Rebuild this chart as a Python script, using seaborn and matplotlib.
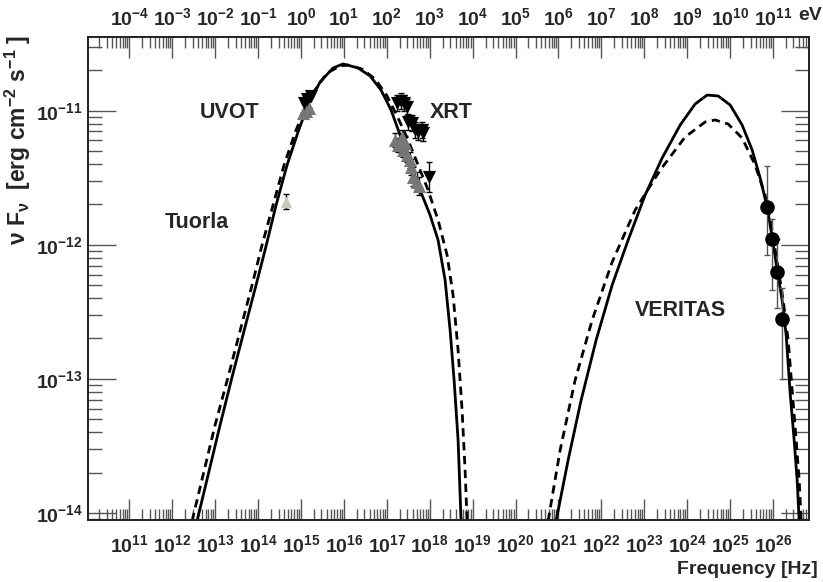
import numpy as np
import pandas as pd
import matplotlib
matplotlib.use("Agg")
import matplotlib.pyplot as plt
import matplotlib.ticker as mticker
import seaborn as sns

# ---------------- data (log10 values) ----------------
sync_solid_lognu = [12.578, 12.835, 13.114, 13.394, 13.697, 13.953, 14.163, 14.420, 14.676, 14.932,
                    15.142, 15.445, 15.748, 15.981, 16.331, 16.611, 16.867, 17.100, 17.310, 17.543,
                    17.776, 18.009, 18.196, 18.359, 18.476, 18.569, 18.662, 18.732]
sync_solid_logf = [-14.06, -13.719, -13.346, -12.987, -12.614, -12.301, -12.040, -11.704, -11.405, -11.159,
                   -10.972, -10.786, -10.681, -10.651, -10.681, -10.741, -10.846, -10.995, -11.181, -11.390,
                   -11.592, -11.778, -11.965, -12.263, -12.637, -13.010, -13.457, -14.06]

sync_dash_lognu = [12.462, 12.718, 12.998, 13.301, 13.604, 13.860, 14.093, 14.350, 14.606, 14.886,
                   15.212, 15.608, 15.911, 16.098, 16.424, 16.727, 17.007, 17.263, 17.497, 17.730,
                   17.963, 18.196, 18.406, 18.545, 18.662, 18.755, 18.825, 18.872]
sync_dash_logf = [-14.06, -13.719, -13.346, -12.987, -12.614, -12.301, -12.002, -11.704, -11.405, -11.144,
                  -10.898, -10.719, -10.666, -10.659, -10.689, -10.763, -10.890, -11.054, -11.219, -11.405,
                  -11.592, -11.816, -12.077, -12.375, -12.786, -13.234, -13.681, -14.06]

ic_solid_lognu = [20.946, 21.226, 21.529, 21.879, 22.252, 22.625, 23.021, 23.417, 23.837, 24.186,
                  24.466, 24.723, 25.002, 25.282, 25.515, 25.702, 25.865, 25.981, 26.098, 26.214,
                  26.308, 26.401, 26.494, 26.564, 26.611]
ic_solid_logf = [-14.06, -13.607, -13.159, -12.711, -12.301, -11.965, -11.629, -11.353, -11.107, -10.950,
                 -10.883, -10.890, -10.957, -11.107, -11.293, -11.502, -11.719, -11.943, -12.189, -12.413,
                 -12.674, -13.107, -13.457, -13.756, -14.06]

ic_dash_lognu = [20.760, 21.040, 21.389, 21.786, 22.252, 22.788, 23.371, 23.953, 24.420, 24.653,
                 24.956, 25.282, 25.585, 25.818, 25.981, 26.121, 26.238, 26.354, 26.448, 26.541,
                 26.611, 26.657]
ic_dash_logf = [-14.06, -13.532, -13.010, -12.562, -12.129, -11.741, -11.443, -11.196, -11.084, -11.069,
                -11.099, -11.204, -11.405, -11.629, -11.890, -12.174, -12.413, -12.711, -13.084, -13.457,
                -13.756, -14.06]

tuorla_lognu = [14.653]
tuorla_logf = [-11.679]
tuorla_err_lo = [-11.736]
tuorla_err_hi = [-11.622]

uvot_hi_lognu = [15.072, 15.150, 15.226]
uvot_hi_logf = [-10.943, -10.913, -10.890]
uvot_lo_lognu = [15.040, 15.119, 15.189]
uvot_lo_logf = [-11.020, -11.002, -10.983]

xrt_hi_lognu = [17.233, 17.326, 17.403, 17.466, 17.503, 17.583, 17.660, 17.737, 17.816, 17.853, 17.993]
xrt_hi_logf = [-10.945, -10.925, -10.940, -10.970, -11.082, -11.094, -11.144, -11.157, -11.144, -11.169, -11.493]
xrt_hi_err = [0.06, 0.06, 0.06, 0.06, 0.06, 0.06, 0.06, 0.06, 0.06, 0.06, 0.11]

xrt_lo_lognu = [17.193, 17.263, 17.350, 17.387, 17.427, 17.466, 17.543, 17.566, 17.620, 17.699, 17.753]
xrt_lo_logf = [-11.219, -11.256, -11.194, -11.293, -11.241, -11.331, -11.368, -11.420, -11.493, -11.530, -11.562]
xrt_lo_err = [0.05, 0.05, 0.05, 0.05, 0.05, 0.05, 0.06, 0.06, 0.07, 0.07, 0.07]

veritas_lognu = [25.860, 25.977, 26.098, 26.208]
veritas_logf = [-11.715, -11.955, -12.200, -12.556]
veritas_err_lo = [-12.073, -12.340, -12.470, -13.000]
veritas_err_hi = [-11.410, -11.806, -11.955, -12.320]

xticks_hz = list(range(11, 27))
xticks_ev = list(range(-4, 12))
yticks = [-14, -13, -12, -11]
x_range_log = (10.044, 26.84)
y_range_log = (-14.053, -10.45)
ev_axis_shift = 15  # top axis decades drawn directly above bottom ones (10^-4 eV over 10^11 Hz)

# ---------------- style ----------------
sns.set_theme(style="ticks")
plt.rcParams["font.family"] = ["Liberation Sans", "DejaVu Sans"]
plt.rcParams["font.weight"] = "bold"
plt.rcParams["mathtext.fontset"] = "custom"
plt.rcParams["mathtext.rm"] = "Liberation Sans:bold"
plt.rcParams["mathtext.it"] = "Liberation Sans:bold"
plt.rcParams["mathtext.bf"] = "Liberation Sans:bold"
plt.rcParams["mathtext.default"] = "rm"

fig = plt.figure(figsize=(8.23, 5.82), dpi=100)
ax = fig.add_axes([88.3 / 823, 1 - 520 / 582, (809 - 88.3) / 823, (520 - 37) / 582])

def curve(lognu, logf, ls):
    df = pd.DataFrame({"nu": 10 ** np.array(lognu), "f": 10 ** np.array(logf)})
    sns.lineplot(data=df, x="nu", y="f", ax=ax, color="black", lw=2.0, linestyle=ls,
                 sort=False, estimator=None)

curve(sync_solid_lognu, sync_solid_logf, "-")
curve(ic_solid_lognu, ic_solid_logf, "-")
curve(sync_dash_lognu, sync_dash_logf, (0, (3, 2)))
curve(ic_dash_lognu, ic_dash_logf, (0, (3, 2)))

def pts(lognu, logf, lo, hi, marker, color, size, ecolor="black"):
    nu = 10 ** np.array(lognu)
    f = 10 ** np.array(logf)
    lo = 10 ** np.array(lo)
    hi = 10 ** np.array(hi)
    ax.errorbar(nu, f, yerr=[f - lo, hi - f], fmt="none", ecolor=ecolor, elinewidth=1.0,
                capsize=2.5, capthick=1.0, zorder=3)
    df = pd.DataFrame({"nu": nu, "f": f})
    sns.scatterplot(data=df, x="nu", y="f", ax=ax, marker=marker, color=color, s=size,
                    edgecolor=color, linewidth=0, zorder=4)

pts(tuorla_lognu, tuorla_logf, tuorla_err_lo, tuorla_err_hi, "^", "#c9c7b6", 70)
pts(uvot_lo_lognu, uvot_lo_logf, uvot_lo_logf, uvot_lo_logf, "^", "#777777", 90)
pts(uvot_hi_lognu, uvot_hi_logf, uvot_hi_logf, uvot_hi_logf, "v", "black", 90)
lo = np.array(xrt_lo_logf)
pts(xrt_lo_lognu, xrt_lo_logf, lo - np.array(xrt_lo_err), lo + np.array(xrt_lo_err), "^", "#777777", 90)
hi = np.array(xrt_hi_logf)
pts(xrt_hi_lognu, xrt_hi_logf, hi - np.array(xrt_hi_err), hi + np.array(xrt_hi_err), "v", "black", 90)
pts(veritas_lognu, veritas_logf, veritas_err_lo, veritas_err_hi, "o", "black", 110, ecolor="#555555")

ax.set_xscale("log")
ax.set_yscale("log")
ax.set_xlim(10 ** x_range_log[0], 10 ** x_range_log[1])
ax.set_ylim(10 ** y_range_log[0], 10 ** y_range_log[1])

ax.set_xticks([10.0 ** k for k in xticks_hz])
ax.set_xticklabels([r"$10^{%d}$" % k for k in xticks_hz], fontsize=14)
ax.set_yticks([10.0 ** k for k in yticks])
ax.set_yticklabels([r"$10^{%d}$" % k for k in yticks], fontsize=14)
ax.xaxis.set_minor_locator(mticker.LogLocator(base=10, subs=np.arange(2, 10), numticks=100))
ax.yaxis.set_minor_locator(mticker.LogLocator(base=10, subs=np.arange(2, 10), numticks=100))
ax.xaxis.set_minor_formatter(mticker.NullFormatter())
ax.yaxis.set_minor_formatter(mticker.NullFormatter())
ax.tick_params(axis="x", which="major", direction="in", length=15, width=1, color="#555555",
               top=False, bottom=True, pad=10)
ax.tick_params(axis="x", which="minor", direction="in", length=8, width=1, color="#555555",
               top=False, bottom=True)
ax.tick_params(axis="y", which="major", direction="in", length=20, width=1, color="#555555",
               left=True, right=True, pad=4)
ax.tick_params(axis="y", which="minor", direction="in", length=10, width=1, color="#555555",
               left=True, right=True)
for s in ax.spines.values():
    s.set_visible(True)
    s.set_color("black")
    s.set_linewidth(1.2)

ax2 = ax.twiny()
ax2.set_xscale("log")
ax2.set_xlim(10 ** (x_range_log[0] - ev_axis_shift), 10 ** (x_range_log[1] - ev_axis_shift))
ax2.set_xticks([10.0 ** k for k in xticks_ev])
ax2.set_xticklabels([r"$10^{%d}$" % k for k in xticks_ev], fontsize=14)
ax2.xaxis.set_minor_locator(mticker.LogLocator(base=10, subs=np.arange(2, 10), numticks=100))
ax2.xaxis.set_minor_formatter(mticker.NullFormatter())
ax2.tick_params(axis="x", which="major", direction="in", length=15, width=1, color="#555555", pad=6)
ax2.tick_params(axis="x", which="minor", direction="in", length=8, width=1, color="#555555")

ax.set_xlabel("")
ax.set_ylabel("")
fig.text(818 / 823, 1 - 570 / 582, "Frequency [Hz]", ha="right", va="center", fontsize=14, fontweight="bold")
fig.text(822 / 823, 1 - 16 / 582, "eV", ha="right", va="center", fontsize=14, fontweight="bold")
fig.text(18 / 823, 1 - 140 / 582, r"ν F$_{ν}$  [erg cm$^{-2}$ s$^{-1}$ ]", rotation=90, ha="center",
         va="center", fontsize=16.5, fontweight="bold")

ann = {"fontsize": 15.5, "fontweight": "bold", "ha": "center", "va": "center"}
fig.text(230 / 823, 1 - 112 / 582, "UVOT", **ann)
fig.text(451 / 823, 1 - 112 / 582, "XRT", **ann)
fig.text(197 / 823, 1 - 222 / 582, "Tuorla", **ann)
fig.text(680 / 823, 1 - 310 / 582, "VERITAS", **ann)

fig.savefig("out.png", dpi=100)
